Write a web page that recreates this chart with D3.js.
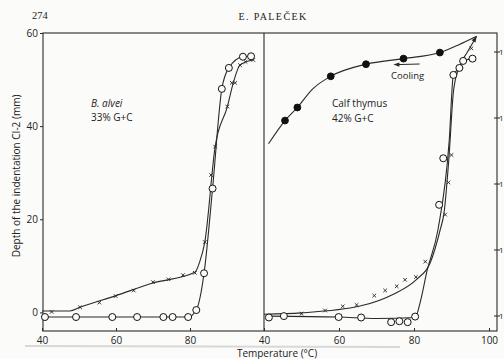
<!DOCTYPE html>
<html><head><meta charset="utf-8">
<script src="https://cdn.jsdelivr.net/npm/d3@7"></script>
<style>
html,body{margin:0;padding:0;background:#fbfbf9;}
svg{display:block;}
text{font-family:"Open Sans","DejaVu Sans",sans-serif;fill:#222;}
.serif{font-family:"Liberation Serif","DejaVu Serif",serif;}
</style></head>
<body>
<svg id="c" width="504" height="359"></svg>
<script>
// ---------- data ----------
const xTicksLeft = [40, 60, 80];
const xTicksRight = [40, 60, 80, 100];
const yTicks = [0, 20, 40, 60];
const rightTickLabels = ["1", "1", "1", "1", "1"];

// B. alvei – native (open circles)
const alveiCircT = [40.8, 49.2, 59, 65.7, 72.8, 75.3, 79.5, 81.7, 83.8, 86.1, 88.6, 90.5, 94.3, 96.5];
const alveiCircV = [-1, -1, -1, -1, -1, -1, -1, 0.5, 8.4, 26.6, 48, 52.5, 54.9, 55];
// B. alvei – crosses
const alveiCrossT = [42.6, 50.3, 55.5, 59.9, 64.8, 70, 74.2, 78.1, 81.3, 84, 85.7, 86.8, 90.1, 91.3, 92.2, 93.5, 95, 97.1];
const alveiCrossV = [0.1, 1.1, 2.1, 3.5, 4.7, 6.5, 7.1, 8, 8.5, 15.1, 29.5, 35.6, 44.2, 49.3, 49.3, 53.1, 53.8, 54.2];
// B. alvei – hand-drawn curve through crosses
const alveiCurveT = [40, 47.5, 50.3, 60, 70, 81.3, 82.6, 84, 86.8, 90.1, 91.7, 93.5, 96.9];
const alveiCurveV = [0.3, 0.3, 1.1, 3.6, 6.3, 8.6, 10.8, 15.1, 35.6, 44.2, 49.3, 53.1, 54.2];

// Calf thymus – native (open circles)
const thymCircT = [41.3, 45.3, 59.9, 65.9, 73.9, 76.1, 78.3, 80.3, 86.7, 87.8, 90.5, 92.1, 93.1, 95.6];
const thymCircV = [-1.1, -0.8, -1, -1.1, -2.1, -1.9, -2.1, -0.9, 23.1, 33.1, 51, 52.5, 54, 54.5];
const thymCircCurveT = [41.3, 60, 70, 80.3, 81.6, 83.5, 86.4, 89.4, 90.5, 92.1, 93.1, 95.6];
const thymCircCurveV = [-0.8, -1, -1.3, -1.1, 2, 9, 17.8, 37, 51, 52.5, 54, 54.5];
// Calf thymus – crosses
const thymCrossT = [50, 56.3, 61, 64.7, 69.4, 72.3, 75.4, 77.6, 80.5, 83, 88.3, 89.2, 90, 90.6, 93.2, 95.3];
const thymCrossV = [-0.3, 0.4, 1.3, 1.6, 3.6, 4.7, 5.6, 7, 7.6, 10.9, 21, 27.9, 33.8, 51, 54.2, 56.7];
const thymCrossCurveT = [40, 50, 65.6, 74.5, 80.7, 84.3, 87, 88, 89.3, 90.6, 92.5, 94, 96.7];
const thymCrossCurveV = [-0.4, -0.1, 1.35, 3.9, 7.1, 10.6, 17.8, 21.3, 33, 48, 53.5, 55.6, 59.3];
// Calf thymus – cooling (filled circles)
const coolT = [45.6, 48.9, 57.8, 67.2, 77.2, 86.9];
const coolV = [41.2, 44, 50.7, 53.3, 54.5, 55.8];
const coolCurveT = [41.2, 45.6, 48.9, 53, 57.8, 67.2, 77.2, 86.9, 92, 96.7];
const coolCurveV = [36.2, 41.2, 44, 48, 50.7, 53.3, 54.5, 55.8, 57.5, 59.3];

// ---------- scales ----------
const svg = d3.select("#c");
const pTop = 33, pBottom = 331, pLeft = 43, pMid = 264, pRight = 497;
const xL = d3.scaleLinear().domain([40, 100]).range([42, pMid]);
const xR = d3.scaleLinear().domain([40, 102]).range([pMid, pMid + 62 * 3.75]);
const y = d3.scaleLinear().domain([-4, 60]).range([pBottom, pTop]);
const yRight = d3.scaleLinear().domain([0, 4]).range([316, 52]);

const ink = "#2a2a2a";

// scan artefact line
svg.append("line").attr("x1", 25).attr("x2", 400).attr("y1", 346).attr("y2", 347)
  .attr("stroke", "#d8d8d8").attr("stroke-width", 2);

// header
svg.append("text").attr("class", "serif").attr("x", 32).attr("y", 19)
  .attr("font-size", 10.5).text("274");
svg.append("text").attr("class", "serif").attr("x", 273).attr("y", 20)
  .attr("font-size", 10).attr("text-anchor", "middle").attr("letter-spacing", 1.4)
  .text("E. PALEČEK");

// frame
const frame = svg.append("g").attr("fill", "none").attr("stroke", ink).attr("stroke-width", 1.1);
frame.append("rect").attr("x", pLeft).attr("y", pTop).attr("width", pRight - pLeft).attr("height", pBottom - pTop);
frame.append("line").attr("x1", pMid).attr("x2", pMid).attr("y1", pTop).attr("y2", pBottom);

// axes
function styleAxis(g) {
  g.select(".domain").remove();
  g.selectAll("line").attr("stroke", ink);
  g.selectAll("text").attr("font-size", 10).attr("fill", "#222")
    .attr("font-family", "'Open Sans','DejaVu Sans',sans-serif");
}
svg.append("g").attr("transform", `translate(0,${pBottom})`)
  .call(d3.axisBottom(xL).tickValues(xTicksLeft).tickSize(-3).tickPadding(6).tickFormat(d3.format("d")))
  .call(styleAxis);
svg.append("g").attr("transform", `translate(0,${pBottom})`)
  .call(d3.axisBottom(xR).tickValues(xTicksRight).tickSize(-3).tickPadding(6).tickFormat(d3.format("d")))
  .call(styleAxis);
svg.append("g").attr("transform", `translate(${pLeft},0)`)
  .call(d3.axisLeft(y).tickValues(yTicks).tickSize(3).tickPadding(2).tickFormat(d3.format("d")))
  .call(styleAxis);
// right axis (labels mostly cut off in the scan)
const ra = svg.append("g");
ra.selectAll("line").data(rightTickLabels).join("line")
  .attr("x1", pRight - 3).attr("x2", pRight + 3)
  .attr("y1", (d, i) => yRight(i)).attr("y2", (d, i) => yRight(i))
  .attr("stroke", ink);
ra.selectAll("text").data(rightTickLabels).join("text")
  .attr("x", pRight + 2).attr("y", (d, i) => yRight(i) + 3)
  .attr("font-size", 8).attr("fill", "#666").text(d => d);

// axis titles
svg.append("text").attr("x", 277).attr("y", 357).attr("font-size", 10)
  .attr("text-anchor", "middle").text("Temperature (°C)");
svg.append("text").attr("transform", "translate(20,176) rotate(-90)").attr("font-size", 10)
  .attr("text-anchor", "middle").text("Depth of the indentation CI-2 (mm)");

// helpers
const zip = (a, b) => a.map((v, i) => [v, b[i]]);
function curve(xs, data) {
  svg.append("path").datum(data)
    .attr("fill", "none").attr("stroke", ink).attr("stroke-width", 1.1)
    .attr("d", d3.line().x(d => xs(d[0])).y(d => y(d[1])).curve(d3.curveMonotoneX));
}
function circles(xs, data, filled) {
  svg.append("g").selectAll("circle").data(data).join("circle")
    .attr("cx", d => xs(d[0])).attr("cy", d => y(d[1])).attr("r", filled ? 3.4 : 3.5)
    .attr("fill", filled ? "#111" : "#fbfbf9").attr("stroke", "#111").attr("stroke-width", 1);
}
function crosses(xs, data) {
  const s = 1.8;
  svg.append("g").selectAll("path").data(data).join("path")
    .attr("d", d => {
      const cx = xs(d[0]), cy = y(d[1]);
      return `M${cx - s},${cy - s}L${cx + s},${cy + s}M${cx - s},${cy + s}L${cx + s},${cy - s}`;
    })
    .attr("stroke", "#222").attr("stroke-width", 0.9).attr("fill", "none");
}

// left panel
curve(xL, zip(alveiCurveT, alveiCurveV));
curve(xL, zip(alveiCircT, alveiCircV));
crosses(xL, zip(alveiCrossT, alveiCrossV));
circles(xL, zip(alveiCircT, alveiCircV), false);

// right panel
curve(xR, zip(thymCrossCurveT, thymCrossCurveV));
curve(xR, zip(thymCircCurveT, thymCircCurveV));
curve(xR, zip(coolCurveT, coolCurveV));
crosses(xR, zip(thymCrossT, thymCrossV));
circles(xR, zip(thymCircT, thymCircV), false);
circles(xR, zip(coolT, coolV), true);

// arrowhead at top end of heating curve
{
  const n = thymCrossCurveT.length;
  const x1 = xR(thymCrossCurveT[n - 2]), y1 = y(thymCrossCurveV[n - 2]);
  const x2 = xR(thymCrossCurveT[n - 1]), y2 = y(thymCrossCurveV[n - 1]);
  const a = Math.atan2(y2 - y1, x2 - x1), L = 6, w = 2.3;
  const bx = x2 - L * Math.cos(a), by = y2 - L * Math.sin(a);
  svg.append("path").attr("d",
    `M${x2},${y2}L${bx + w * Math.sin(a)},${by - w * Math.cos(a)}L${bx - w * Math.sin(a)},${by + w * Math.cos(a)}Z`)
    .attr("fill", ink);
}
// Cooling arrow
{
  const xa = xR(81.5), xb = xR(74.5), ya = 64;
  svg.append("line").attr("x1", xa).attr("x2", xb + 4).attr("y1", ya).attr("y2", ya + 0.6)
    .attr("stroke", ink).attr("stroke-width", 1);
  svg.append("path").attr("d", `M${xb},${ya + 0.6}L${xb + 6},${ya - 1.6}L${xb + 6},${ya + 2.8}Z`).attr("fill", ink);
}

// annotations
svg.append("text").attr("x", 91).attr("y", 107).attr("font-size", 10).attr("font-style", "italic").text("B. alvei");
svg.append("text").attr("x", 91).attr("y", 121).attr("font-size", 10).text("33% G+C");
svg.append("text").attr("x", 332).attr("y", 107).attr("font-size", 10).text("Calf thymus");
svg.append("text").attr("x", 332).attr("y", 122).attr("font-size", 10).text("42% G+C");
svg.append("text").attr("x", 391).attr("y", 79).attr("font-size", 9.5).text("Cooling");
</script>
</body></html>
